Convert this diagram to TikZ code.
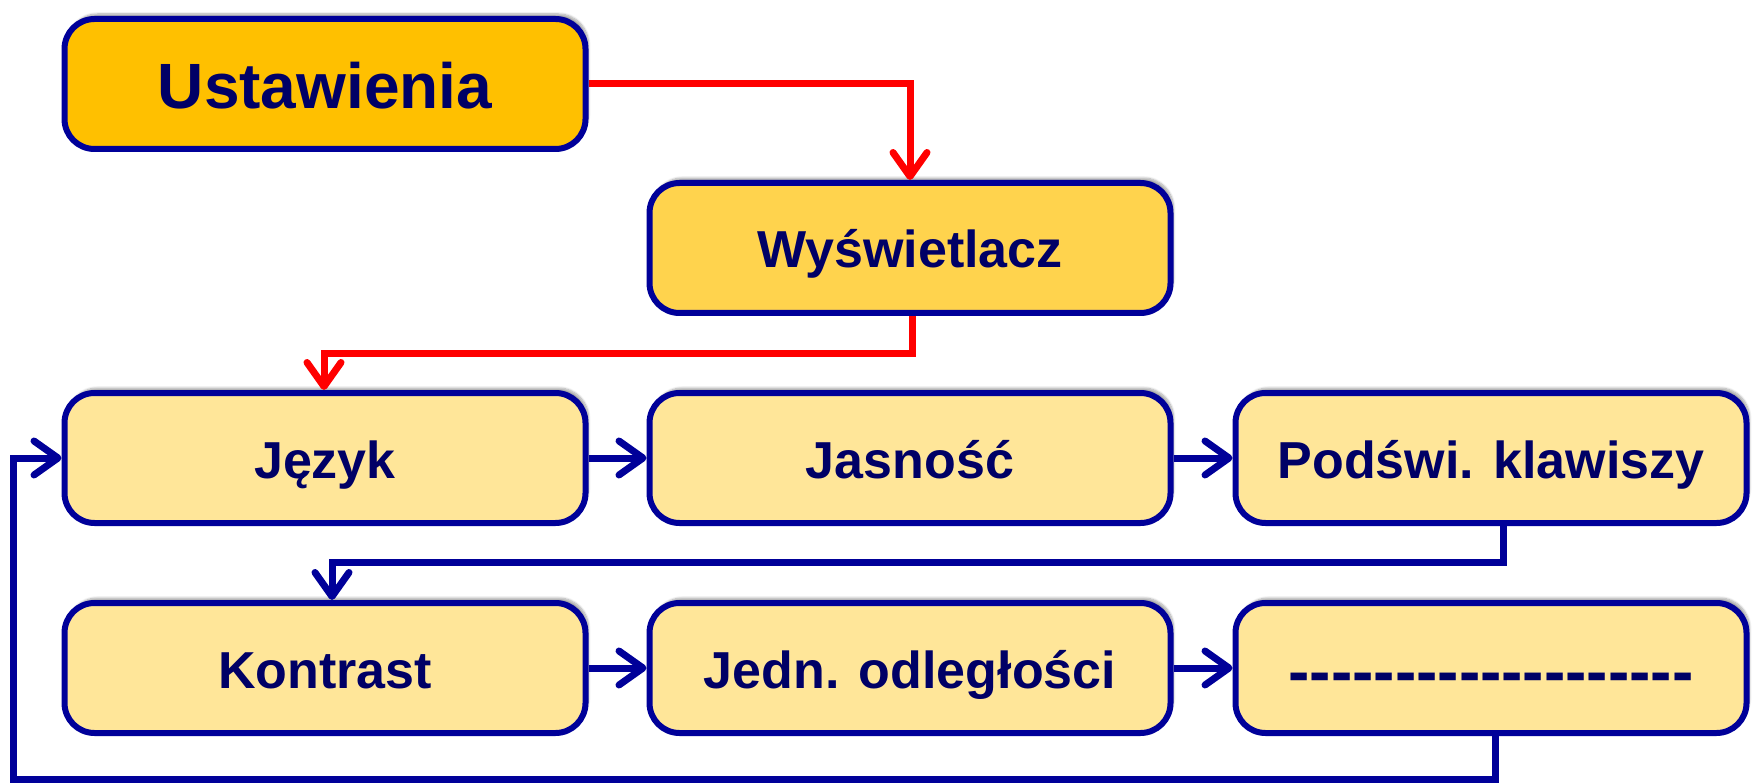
\documentclass[tikz,border=0pt]{standalone}
\usepackage{fontspec}
\setmainfont{Liberation Sans}
\usetikzlibrary{arrows.meta,shadows.blur}
\definecolor{navy}{RGB}{0,0,153}
\definecolor{txtc}{RGB}{0,0,102}
\definecolor{goldA}{RGB}{255,192,0}
\definecolor{goldB}{RGB}{255,211,77}
\definecolor{pale}{RGB}{255,230,153}
\definecolor{redA}{RGB}{255,0,0}
\begin{document}
\begin{tikzpicture}[x=1pt,y=-1pt,
  box/.style={draw=navy, line width=6pt, rounded corners=30pt, text=txtc,
    minimum width=521pt, minimum height=130pt, inner sep=0pt,
    text height=40pt, text depth=0pt,
    font=\bfseries\fontsize{52}{60}\selectfont,
    blur shadow={shadow xshift=3pt, shadow yshift=5pt, shadow blur steps=8, shadow opacity=35}},
  bigtext/.style={font=\bfseries\fontsize{64}{72}\selectfont, text height=50pt},
  redcon/.style={draw=redA, line width=7pt,
    -{Straight Barb[length=24pt,width=34pt,round]}},
  bluecon/.style={draw=navy, line width=7pt,
    -{Straight Barb[length=24pt,width=34pt,round]}}]
\useasboundingbox (0,0) rectangle (1752,783);
% nodes
\node[box, bigtext, fill=goldA] (U) at (325,84) {Ustawienia};
\node[box, fill=goldB] (W) at (910,248) {Wyświetlacz};
\node[box, fill=pale] (J) at (325,458) {Język};
\node[box, fill=pale] (Ja) at (910,458) {Jasność};
\node[box, fill=pale, minimum width=511pt] (P) at (1491,458) {Podświ. klawiszy};
\node[box, fill=pale] (K) at (325,668) {Kontrast};
\node[box, fill=pale] (Jd) at (910,668) {Jedn. odległości};
\node[box, bigtext, fill=pale, minimum width=511pt] (D) at (1491,668) {-{}-{}-{}-{}-{}-{}-{}-{}-{}-{}-{}-{}-{}-{}-{}-{}-{}-{}-};
% helper coordinates
\coordinate (r1) at (912,353);
\coordinate (r2) at (324,353);
\coordinate (b1) at (1503,562);
\coordinate (b2) at (332,562);
\coordinate (c1) at (1495,779);
\coordinate (c2) at (13,779);
\coordinate (c3) at (13,458);
% connectors
\draw[redcon] (U.east) -| (W.north);
\draw[redcon] (W.south -| r1) -- (r1) -- (r2) -- (J.north -| r2);
\draw[bluecon] (J.east) -- (Ja.west);
\draw[bluecon] (Ja.east) -- (P.west);
\draw[bluecon] (P.south -| b1) -- (b1) -- (b2) -- (K.north -| b2);
\draw[bluecon] (K.east) -- (Jd.west);
\draw[bluecon] (Jd.east) -- (D.west);
\draw[bluecon] (D.south -| c1) -- (c1) -- (c2) -- (c3) -- (J.west);
\end{tikzpicture}
\end{document}
